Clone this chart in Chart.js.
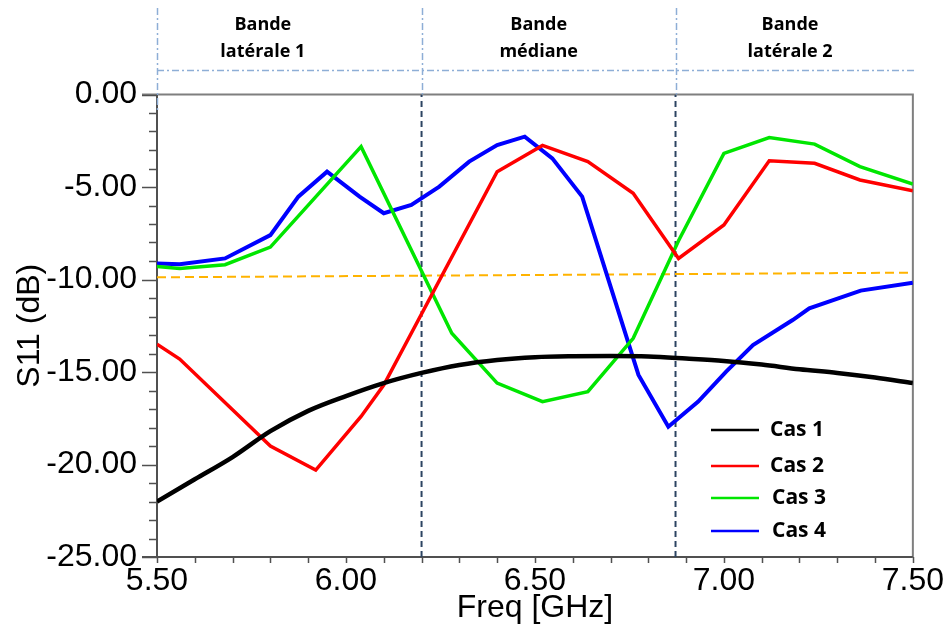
<!DOCTYPE html>
<html>
<head>
<meta charset="utf-8">
<script src="https://cdn.jsdelivr.net/npm/chart.js@4.4.0/dist/chart.umd.min.js"></script>
<style>
  body { margin: 0; background: #fff; }
  canvas { display: block; }
</style>
</head>
<body>
<canvas id="s11Chart" width="949" height="630"></canvas>
<script>
// S11 readings (dB) vs frequency (GHz)
var freqCas1 = [5.5, 5.6, 5.7, 5.8, 5.9, 6.0, 6.1, 6.2, 6.3, 6.4, 6.5, 6.6, 6.7, 6.8, 6.9, 7.0, 7.1, 7.2, 7.3, 7.4, 7.5];
var s11Cas1 = [-22.0, -20.8, -19.6, -18.2, -17.1, -16.3, -15.6, -15.05, -14.62, -14.35, -14.2, -14.15, -14.14, -14.16, -14.27, -14.4, -14.6, -14.85, -15.05, -15.3, -15.6];

var freqCas2 = [5.5, 5.56, 5.80, 5.92, 6.04, 6.10, 6.40, 6.52, 6.64, 6.76, 6.88, 7.00, 7.12, 7.24, 7.36, 7.5];
var s11Cas2 = [-13.5, -14.3, -19.0, -20.3, -17.4, -15.7, -4.17, -2.75, -3.63, -5.34, -8.86, -7.05, -3.58, -3.72, -4.62, -5.2];

var freqCas3 = [5.5, 5.56, 5.68, 5.80, 6.04, 6.28, 6.40, 6.52, 6.64, 6.76, 6.88, 7.00, 7.12, 7.24, 7.36, 7.5];
var s11Cas3 = [-9.3, -9.4, -9.2, -8.25, -2.82, -12.9, -15.6, -16.6, -16.06, -13.18, -7.9, -3.18, -2.33, -2.68, -3.9, -4.84];

var freqCas4 = [5.5, 5.56, 5.68, 5.80, 5.874, 5.95, 6.036, 6.10, 6.173, 6.247, 6.326, 6.40, 6.473, 6.546, 6.625, 6.774, 6.853, 6.932, 7.006, 7.077, 7.182, 7.226, 7.362, 7.5];
var s11Cas4 = [-9.13, -9.18, -8.86, -7.6, -5.52, -4.17, -5.52, -6.42, -5.97, -4.98, -3.63, -2.73, -2.28, -3.45, -5.52, -15.16, -17.96, -16.6, -14.98, -13.54, -12.19, -11.56, -10.6, -10.17];

// -10 dB reference (slightly tilted in the original)
var freqRef = [5.5, 7.5];
var s11Ref = [-9.88, -9.63];

// band limits (GHz)
var bandEdges = [6.2, 6.872];
var bandNames = [["Bande", "latérale 1"], ["Bande", "médiane"], ["Bande", "latérale 2"]];
var bandLabelFreq = [5.78, 6.51, 7.175];

var legendNames = ["Cas 1", "Cas 2", "Cas 3", "Cas 4"];

function toPoints(xs, ys) {
    var pts = [];
    for (var i = 0; i < xs.length; i++) pts.push({x: xs[i], y: ys[i]});
    return pts;
}

var datasets = [
    {label: legendNames[0], data: toPoints(freqCas1, s11Cas1), borderColor: '#000000', borderWidth: 4.5, cubicInterpolationMode: 'monotone'},
    {label: legendNames[1], data: toPoints(freqCas2, s11Cas2), borderColor: '#ff0000', borderWidth: 3.5},
    {label: legendNames[2], data: toPoints(freqCas3, s11Cas3), borderColor: '#00e600', borderWidth: 3.5},
    {label: legendNames[3], data: toPoints(freqCas4, s11Cas4), borderColor: '#0000ff', borderWidth: 4},
    {label: 'ref', data: toPoints(freqRef, s11Ref), borderColor: '#ffb300', borderWidth: 2, borderDash: [9, 5]}
];
for (var b = 0; b < bandEdges.length; b++) {
    datasets.push({label: 'edge', data: toPoints([bandEdges[b], bandEdges[b]], [-25, 0]),
        borderColor: '#2c4462', borderWidth: 2, borderDash: [6, 4]});
}
datasets.forEach(function (d) { d.pointRadius = 0; d.fill = false; d.tension = 0; });

function isMajor(v, step) {
    var r = v / step;
    return Math.abs(r - Math.round(r)) < 1e-6;
}

var framePlugin = {
    id: 'frame',
    beforeDatasetsDraw: function (chart) {
        var ctx = chart.ctx, a = chart.chartArea;
        var xs = chart.scales.x, ys = chart.scales.y;
        ctx.save();
        // top + right frame
        ctx.strokeStyle = '#7f7f7f';
        ctx.lineWidth = 2;
        ctx.beginPath();
        ctx.moveTo(a.left - 15, a.top);
        ctx.lineTo(a.right, a.top);
        ctx.lineTo(a.right, a.bottom);
        ctx.stroke();
        // axes
        ctx.strokeStyle = '#505050';
        ctx.beginPath();
        ctx.moveTo(a.left, a.top);
        ctx.lineTo(a.left, a.bottom);
        ctx.moveTo(a.left - 15, a.bottom);
        ctx.lineTo(a.right, a.bottom);
        ctx.stroke();
        // ticks
        ctx.lineWidth = 1.5;
        ctx.beginPath();
        for (var v = -25; v <= 0; v++) {
            var py = Math.round(ys.getPixelForValue(v)) + 0.5;
            var len = (v % 5 === 0) ? 15 : 8;
            ctx.moveTo(a.left - len, py);
            ctx.lineTo(a.left, py);
        }
        for (var i = 0; i <= 20; i++) {
            var px = Math.round(xs.getPixelForValue(5.5 + i * 0.1)) + 0.5;
            ctx.moveTo(px, a.bottom);
            ctx.lineTo(px, a.bottom + 6);
        }
        ctx.stroke();
        ctx.restore();
    },
    afterDraw: function (chart) {
        var ctx = chart.ctx, a = chart.chartArea;
        var xs = chart.scales.x;
        ctx.save();
        // band header separators (dash-dot)
        ctx.strokeStyle = '#8eaed6';
        ctx.lineWidth = 1.5;
        ctx.setLineDash([7, 3, 2, 3]);
        var edges = [5.5].concat(bandEdges);
        ctx.beginPath();
        edges.forEach(function (f, k) {
            var px = Math.round(xs.getPixelForValue(f)) + 0.5;
            ctx.moveTo(px, 8);
            ctx.lineTo(px, k === 0 ? a.top + 18 : a.top);
        });
        ctx.moveTo(a.left, 70.5);
        ctx.lineTo(a.right + 4, 70.5);
        ctx.stroke();
        ctx.setLineDash([]);
        // band labels
        ctx.fillStyle = '#000';
        ctx.font = 'bold 18px "Open Sans"';
        ctx.textAlign = 'center';
        ctx.textBaseline = 'middle';
        bandNames.forEach(function (lines, k) {
            var px = xs.getPixelForValue(bandLabelFreq[k]);
            ctx.fillText(lines[0], px, 25);
            ctx.fillText(lines[1], px, 52);
        });
        // legend
        var ly = [430, 466, 498, 531];
        ctx.font = 'bold 21px "Open Sans"';
        ctx.textAlign = 'left';
        for (var i = 0; i < 4; i++) {
            var ds = chart.data.datasets[i];
            ctx.strokeStyle = ds.borderColor;
            ctx.lineWidth = 2.5;
            ctx.beginPath();
            ctx.moveTo(711, ly[i]);
            ctx.lineTo(759, ly[i]);
            ctx.stroke();
            ctx.fillText(ds.label, 770 + (i >= 2 ? 2 : 0), ly[i]);
        }
        // axis titles
        ctx.font = '32px "Liberation Sans", Arial';
        ctx.textAlign = 'center';
        ctx.fillText('Freq [GHz]', (a.left + a.right) / 2, 608);
        ctx.translate(30, (a.top + a.bottom) / 2);
        ctx.rotate(-Math.PI / 2);
        ctx.fillText('S11 (dB)', 0, 0);
        ctx.restore();
    }
};

new Chart(document.getElementById('s11Chart').getContext('2d'), {
    type: 'line',
    data: {datasets: datasets},
    options: {
        responsive: false,
        animation: false,
        layout: {padding: {left: 0, top: 94.5, right: 33, bottom: 0}},
        plugins: {legend: {display: false}, tooltip: {enabled: false}},
        scales: {
            x: {
                type: 'linear', min: 5.5, max: 7.5,
                grid: {display: false, drawTicks: false},
                border: {display: false},
                ticks: {
                    stepSize: 0.1, autoSkip: false, maxRotation: 0, padding: 5,
                    color: '#000', font: {family: '"Liberation Sans", Arial', size: 32},
                    callback: function (v) { return isMajor(v, 0.5) ? v.toFixed(2) : ''; }
                },
                afterFit: function (s) { s.height = 73; }
            },
            y: {
                min: -25, max: 0,
                grid: {display: false, drawTicks: false},
                border: {display: false},
                ticks: {
                    stepSize: 1, autoSkip: false, padding: 20,
                    color: '#000', font: {family: '"Liberation Sans", Arial', size: 32},
                    callback: function (v) { return isMajor(v, 5) ? v.toFixed(2) : ''; }
                },
                afterFit: function (s) { s.width = 157; }
            }
        }
    },
    plugins: [framePlugin]
});
</script>
</body>
</html>
